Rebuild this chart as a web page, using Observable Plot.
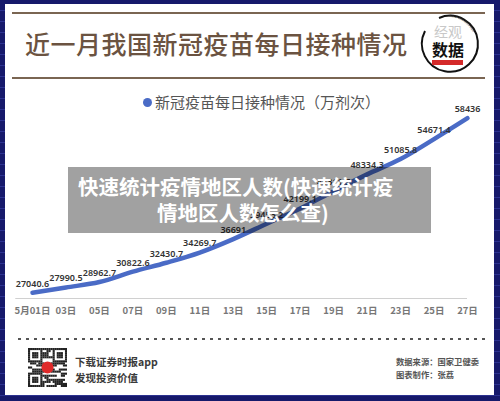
<!DOCTYPE html>
<html><head><meta charset="utf-8">
<script src="https://cdn.jsdelivr.net/npm/d3@7"></script>
<script src="https://cdn.jsdelivr.net/npm/@observablehq/plot@0.6"></script>
<style>
html,body{margin:0;padding:0;}
body{width:500px;height:401px;overflow:hidden;position:relative;
 background:repeating-linear-gradient(to bottom,#16196b 0px,#16196b 10px,#2c3290 10px,#2c3290 11px);
 font-family:"Noto Sans CJK SC","Noto Sans",sans-serif;}
.abs{position:absolute;}
#card{left:5px;top:4px;width:489px;height:391px;background:#fff;}
.hline{height:2px;background:#7a6552;left:12px;width:473px;}
#title{left:25px;top:27px;font-size:25px;line-height:32px;color:#6b5341;font-weight:500;white-space:nowrap;letter-spacing:0.5px;}
#legend{left:143px;top:92px;font-size:15px;line-height:20px;color:#555;white-space:nowrap;}
#legend .dot{display:inline-block;width:9px;height:9px;border-radius:50%;background:#4a6bc6;margin-right:3px;vertical-align:1px;}
#chart{left:0;top:90px;}
#overlay{left:68px;top:167px;width:363px;height:66px;background:rgba(0,0,0,0.37);}
.wm{color:#fff;font-size:20.5px;font-weight:700;white-space:nowrap;line-height:26px;}
#dots{left:18px;top:338px;width:470px;height:2px;background:repeating-linear-gradient(to right,#555 0 3px,transparent 3px 8px);}
.bt{white-space:nowrap;color:#3a3a3a;font-weight:700;font-size:10.5px;line-height:14px;}
.rt{white-space:nowrap;color:#555;font-weight:700;font-size:8.3px;line-height:12px;}
</style></head>
<body>
<div id="card" class="abs"></div>
<div class="abs hline" style="top:12px"></div>
<div class="abs hline" style="top:77px"></div>
<div id="title" class="abs">近一月我国新冠疫苗每日接种情况</div>
<svg class="abs" style="left:415px;top:11px" width="66" height="64" viewBox="0 0 66 64">
  <defs><path id="arc" d="M 34 6 A 27 27 0 0 1 60 28"/></defs>
  <path d="M 10 20 A 28 28 0 1 0 24 7" fill="none" stroke="#111" stroke-width="2"/>
  <text font-size="3.6" fill="#333" font-family="Noto Sans"><textPath href="#arc">data visualization</textPath></text>
  <text x="33" y="26" text-anchor="middle" font-size="14" fill="#c8c8c8" font-family="Noto Sans CJK SC">经观</text>
  <text x="33" y="45" text-anchor="middle" font-size="16" font-weight="700" fill="#111" font-family="Noto Sans CJK SC">数据</text>
  <rect x="17" y="49" width="31" height="5" fill="#d42a2a"/>
</svg>
<div id="legend" class="abs"><span class="dot"></span>新冠疫苗每日接种情况（万剂次）</div>
<div id="chart" class="abs"></div>
<div id="overlay" class="abs"></div>
<div class="abs wm" style="left:78px;top:173px">快速统计疫情地区人数(快速统计疫</div>
<div class="abs wm" style="left:157px;top:199px">情地区人数怎么查)</div>
<div id="dots" class="abs"></div>
<svg id="qr" class="abs" style="left:28px;top:348px" width="39" height="39"></svg>
<div class="abs bt" style="left:75px;top:355px">下载证券时报app</div>
<div class="abs bt" style="left:75px;top:371px">发现投资价值</div>
<div class="abs rt" style="left:396px;top:355px">数据来源：国家卫健委</div>
<div class="abs rt" style="left:396px;top:368px">图表制作：张荔</div>
<script>
// Data
const days = [1, 3, 5, 7, 9, 11, 13, 15, 17, 19, 21, 23, 25, 27];
const doses = [27040.6, 27990.5, 28962.7, 30822.6, 32430.7, 34269.7, 36691, 39453.2, 42199.1, 45311.7, 48334.3, 51085.8, 54671.4, 58436];
const doseLabels = ["27040.6", "27990.5", "28962.7", "30822.6", "32430.7", "34269.7", "36691", "39453.2", "42199.1", "45311.7", "48334.3", "51085.8", "54671.4", "58436"];
const tickLabels = ["5月01日", "03日", "05日", "07日", "09日", "11日", "13日", "15日", "17日", "19日", "21日", "23日", "25日", "27日"];

const rows = days.map((d, i) => ({day: d, v: doses[i], label: doseLabels[i]}));
const tickMap = new Map(days.map((d, i) => [d, tickLabels[i]]));

const chart = Plot.plot({
  width: 500,
  height: 230,
  marginLeft: 32,
  marginRight: 33,
  marginTop: 19,
  marginBottom: 22,
  style: {background: "transparent", fontFamily: "Noto Sans, Noto Sans CJK SC, sans-serif"},
  x: {domain: [1, 27], axis: null},
  y: {domain: [26000, 60000], axis: null},
  marks: [
    Plot.ruleY([26000], {x1: 0, x2: 27, stroke: "#d0d0d0", strokeWidth: 1}),
    Plot.axisX({ticks: days, tickFormat: d => tickMap.get(d), label: null, tickSize: 0, tickPadding: 9, fontSize: 9.5, color: "#777", fontWeight: 600, fontFamily: "Noto Sans CJK SC"}),
    Plot.line(rows, {x: "day", y: "v", curve: "monotone-x", stroke: "#4a6bc6", strokeWidth: 4.5, strokeLinecap: "round"}),
    Plot.text(rows, {x: "day", y: "v", text: "label", dy: -9, fontSize: 9, fontWeight: 600, fill: "#333"})
  ]
});
document.getElementById("chart").appendChild(chart);

// decorative QR-like block
(function(){
  const svg = document.getElementById("qr");
  const n = 19, s = 39 / n;
  let h = 7;
  let out = "";
  for (let r = 0; r < n; r++) for (let c = 0; c < n; c++) {
    h = (h * 1103515245 + 12345) & 0x7fffffff;
    const finder = (r < 7 && c < 7) || (r < 7 && c >= n - 7) || (r >= n - 7 && c < 7);
    let on;
    if (finder) {
      const rr = r < 7 ? r : r - (n - 7), cc = c < 7 ? c : c - (n - 7);
      on = rr === 0 || rr === 6 || cc === 0 || cc === 6 || (rr >= 2 && rr <= 4 && cc >= 2 && cc <= 4);
    } else on = (h >> 8) % 2 === 0;
    if (on) out += `<rect x="${(c*s).toFixed(2)}" y="${(r*s).toFixed(2)}" width="${(s+0.05).toFixed(2)}" height="${(s+0.05).toFixed(2)}" fill="#222"/>`;
  }
  out += `<circle cx="19.5" cy="19.5" r="6" fill="#e02a2a"/>`;
  svg.innerHTML = out;
})();
</script>
</body></html>
